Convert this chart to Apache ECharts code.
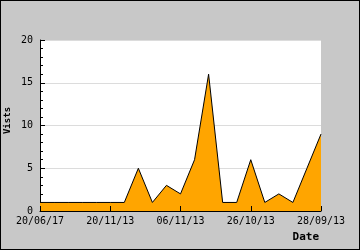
<!DOCTYPE html>
<html>
<head>
<meta charset="utf-8">
<script src="https://cdn.jsdelivr.net/npm/echarts@6/dist/echarts.min.js"></script>
<style>
html,body{margin:0;padding:0;background:#c8c8c8;}
#c{width:358px;height:248px;border:1px solid #000;}
</style>
</head>
<body>
<div id="c"></div>
<script>
var categories = ['20/06/17','','','','','20/11/13','','','','','06/11/13','','','','','26/10/13','','','','','28/09/13'];
var visits = [1,1,1,1,1,1,1,5,1,3,2,6,16,1,1,6,1,2,1,5,9];
var yTicks = [0,5,10,15,20];

var chart = echarts.init(document.getElementById('c'), null, {renderer:'canvas'});
var mono = 'DejaVu Sans Mono';
chart.setOption({
  animation:false,
  backgroundColor:'#c8c8c8',
  grid:{left:39,top:39,right:38,bottom:38,show:true,backgroundColor:'#ffffff',borderWidth:0,containLabel:false,outerBoundsMode:'none'},
  xAxis:{
    type:'category',
    data:categories,
    boundaryGap:false,
    z:10,
    name:'Date',
    nameLocation:'end',
    nameGap:-2,
    nameMoveOverlap:false,
    nameTextStyle:{fontFamily:mono,fontWeight:'bold',fontSize:11,color:'#000',align:'right',verticalAlign:'top',padding:[21,0,0,0]},
    axisLine:{lineStyle:{color:'#000',width:1}},
    axisTick:{show:true,inside:true,length:5,interval:4,lineStyle:{color:'#000'}},
    axisLabel:{interval:4,margin:5,fontFamily:mono,fontSize:10,color:'#000'},
    splitLine:{show:false}
  },
  yAxis:{
    type:'value',
    min:yTicks[0],max:yTicks[yTicks.length-1],interval:5,
    name:'Vists',
    nameLocation:'middle',
    nameRotate:90,
    nameGap:28,
    nameMoveOverlap:false,
    nameTextStyle:{fontFamily:mono,fontWeight:'bold',fontSize:9,color:'#000',padding:[0,0,0,10]},
    axisLine:{show:true,lineStyle:{color:'#000',width:1}},
    axisTick:{show:true,inside:true,length:5,lineStyle:{color:'#000'}},
    minorTick:{show:true,splitNumber:5,length:3,lineStyle:{color:'#000'}},
    axisLabel:{margin:7,fontFamily:mono,fontSize:10,color:'#000'},
    splitLine:{show:true,lineStyle:{color:'#dcdcdc',width:1}}
  },
  series:[{
    type:'line',
    data:visits,
    symbol:'none',
    z:5,
    lineStyle:{color:'#000',width:1},
    areaStyle:{color:'#ffa500',opacity:1}
  }]
});
</script>
</body>
</html>
